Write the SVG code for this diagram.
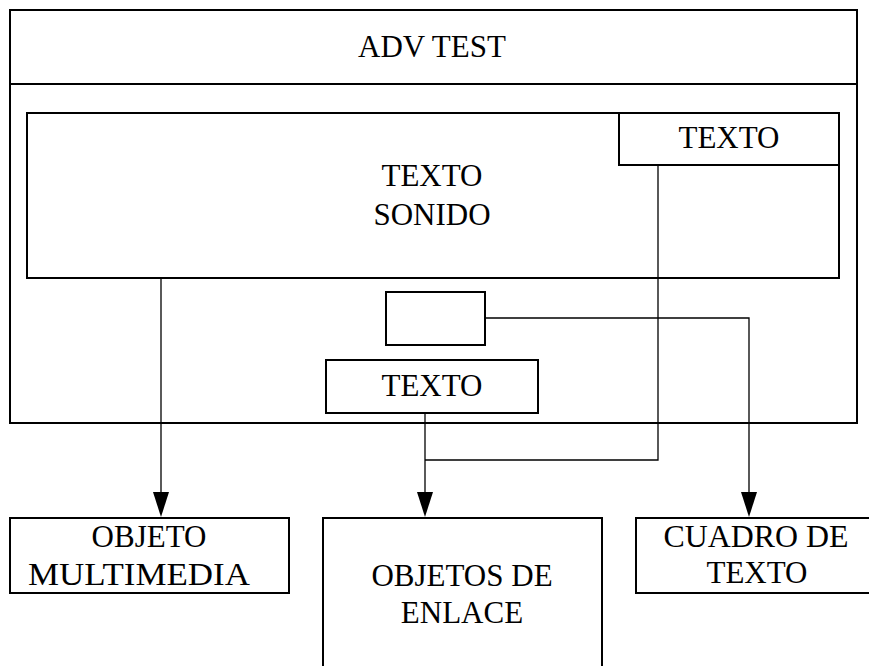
<svg xmlns="http://www.w3.org/2000/svg" width="869" height="666" viewBox="0 0 869 666">
<defs>
<style>
.box{fill:#fff;stroke:#000;stroke-width:2}
.bg{fill:none;stroke:#000;stroke-width:2}
.ln{fill:none;stroke:#000;stroke-width:1.3}
text{font-family:"Liberation Serif","Times New Roman",serif;font-size:31px;fill:#000;text-anchor:middle}
</style>
</defs>
<rect width="869" height="666" fill="#fff"/>
<g id="adv-test">
<rect class="bg" x="10" y="10" width="847" height="413"/>
<line class="bg" x1="10" y1="84" x2="857" y2="84"/>
<text x="432" y="57">ADV TEST</text>
</g>
<g id="texto-sonido">
<rect class="box" x="27" y="113" width="812" height="165"/>
<text x="432" y="186">TEXTO</text>
<text x="432" y="225">SONIDO</text>
</g>
<g id="texto-top">
<rect class="box" x="619" y="113" width="220" height="52"/>
<text x="729" y="148">TEXTO</text>
</g>
<g id="empty-box">
<rect class="box" x="386" y="292" width="99" height="53"/>
</g>
<g id="texto-bottom">
<rect class="box" x="326" y="360" width="212" height="53"/>
<text x="432" y="396">TEXTO</text>
</g>
<g id="connectors">
<path class="ln" d="M161,278 V493" />
<path class="ln" d="M425,413 V493" />
<path class="ln" d="M658,165 V460 H425" />
<path class="ln" d="M485,318 H749 V493" />
<path d="M153,492 L169,492 L161,517 Z" fill="#000"/>
<path d="M417,492 L433,492 L425,517 Z" fill="#000"/>
<path d="M741,492 L757,492 L749,517 Z" fill="#000"/>
</g>
<g id="objeto-multimedia">
<rect class="box" x="10" y="518" width="279" height="75"/>
<text x="149" y="547">OBJETO</text>
<text x="139" y="585" textLength="222" lengthAdjust="spacingAndGlyphs">MULTIMEDIA</text>
</g>
<g id="objetos-enlace">
<rect class="box" x="323" y="518" width="279" height="160"/>
<text x="462" y="586">OBJETOS DE</text>
<text x="462" y="623">ENLACE</text>
</g>
<g id="cuadro-texto">
<rect class="box" x="636" y="518" width="240" height="75"/>
<text x="756" y="547" textLength="185" lengthAdjust="spacingAndGlyphs">CUADRO DE</text>
<text x="757" y="583">TEXTO</text>
</g>
</svg>
